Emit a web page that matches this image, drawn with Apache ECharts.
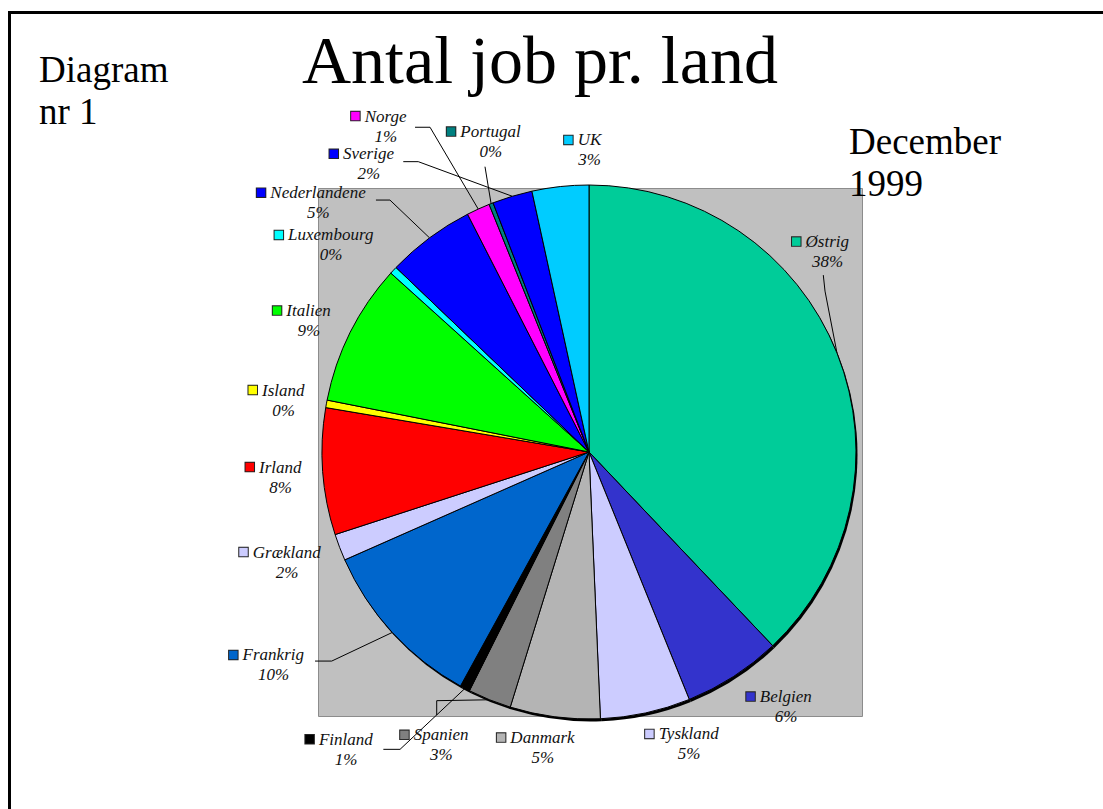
<!DOCTYPE html>
<html>
<head>
<meta charset="utf-8">
<script src="https://cdn.jsdelivr.net/npm/echarts@6/dist/echarts.min.js"></script>
<style>
  html, body { margin: 0; padding: 0; background: #fff; }
  #frame { position: absolute; left: 8px; top: 11px; width: 1200px; height: 900px;
           border-left: 3px solid #000; border-top: 3px solid #000; box-sizing: border-box; }
  #chart { position: absolute; left: 0; top: 0; width: 1103px; height: 809px; }
</style>
</head>
<body>
<div id="frame"></div>
<div id="chart"></div>
<script>
// ---- data ----
const countries = ['Østrig','Belgien','Tyskland','Danmark','Spanien','Finland','Frankrig','Grækland','Irland','Island','Italien','Luxembourg','Nederlandene','Norge','Portugal','Sverige','UK'];
const jobShare  = [37.6, 5.9, 5.4, 5.4, 2.6, 0.6, 10.3, 1.6, 7.6, 0.45, 8.5, 0.45, 5.3, 1.4, 0.25, 2.4, 3.4];
const sliceColors = ['#00CC99','#3333CC','#CCCCFF','#B4B4B4','#808080','#000000','#0066CC','#CCCCFF','#FF0000','#FFFF00','#00FF00','#00FFFF','#0000FF','#FF00FF','#008080','#0000FF','#00CCFF'];
const chartTitle = 'Antal job pr. land';
const cornerNote = 'Diagram\nnr 1';
const dateNote = 'December\n1999';

// ---- layout / style (not data) ----
const CX = 589, CY = 452, R = 267;
const SERIF = "'Liberation Serif', 'Times New Roman', serif";
// label offsets relative to the outer mid-point of each slice; optional leader line (relative too)
const labelPlacement = {
  'Østrig':       { dx: -9.5, dy: -101.5, line: [[-12, -62], [-13.7, -78]] },
  'Belgien':      { dx: 52.5, dy: 30.1 },
  'Tyskland':     { dx: 43.3, dy: 31.0 },
  'Danmark':      { dx: -12.1, dy: 30.8 },
  'Spanien':      { dx: -48.2, dy: 45.1, line: [[-52.8, 0.9], [-52.8, 15.2]] },
  'Finland':      { dx: -118.9, dy: 60.8, line: [[-64.9, 60.9], [-81.6, 60.9]] },
  'Frankrig':     { dx: -118.7, dy: 32.5, line: [[-60.5, 28.6], [-77.2, 28.6]] },
  'Grækland':     { dx: -52.6, dy: 14.7 },
  'Irland':       { dx: -42.2, dy: 5.4 },
  'Island':       { dx: -42.9, dy: -3.8 },
  'Italien':      { dx: -41.6, dy: -11.7 },
  'Luxembourg':   { dx: -62.4, dy: -25.3 },
  'Nederlandene': { dx: -111.3, dy: -35.2, line: [[-39.6, -37.8], [-53.6, -37.8]] },
  'Norge':        { dx: -92.4, dy: -83.0, line: [[-48.2, -81.8], [-63.2, -81.8]] },
  'Portugal':     { dx: -0.3, dy: -62.0, line: [[-6.1, -36.9]] },
  'Sverige':      { dx: -143.5, dy: -32.4, line: [[-94, -34.6], [-109, -34.6]] },
  'UK':           { dx: 29.4, dy: -36.6 }
};

const total = jobShare.reduce((a, b) => a + b, 0);
const midAngles = [];
{
  let acc = 0;
  jobShare.forEach(v => { midAngles.push((acc + v / 2) / total * 360); acc += v; });
}

const rich = {
  n: { fontFamily: SERIF, fontStyle: 'italic', fontSize: 17, lineHeight: 20, color: '#111', padding: [0, 0, 0, 5] },
  s: { width: 14, height: 9 },
  p: { fontFamily: SERIF, fontStyle: 'italic', fontSize: 17, lineHeight: 20, color: '#111' }
};
sliceColors.forEach((c, i) => {
  rich['m' + i] = { width: 8.5, height: 8.5, backgroundColor: c, borderColor: '#222', borderWidth: 1, verticalAlign: 'middle' };
});

const mainData = countries.map((name, i) => ({
  name: name,
  value: jobShare[i],
  itemStyle: { color: sliceColors[i] },
  labelLine: { show: !!labelPlacement[name].line }
}));
const shadowData = countries.map((name, i) => ({ name: name, value: jobShare[i] }));

const chart = echarts.init(document.getElementById('chart'), null, { renderer: 'svg' });
chart.setOption({
  animation: false,
  backgroundColor: 'transparent',
  title: [
    { text: chartTitle, left: 302, top: 26, padding: 0,
      textStyle: { fontFamily: SERIF, fontSize: 68, fontWeight: 'normal', color: '#000' } },
    { text: cornerNote, left: 39, top: 48, padding: 0,
      textStyle: { fontFamily: SERIF, fontSize: 37, lineHeight: 42, fontWeight: 'normal', color: '#000' } },
    { text: dateNote, left: 849, top: 120, padding: 0, z: 10,
      textStyle: { fontFamily: SERIF, fontSize: 37, lineHeight: 42, fontWeight: 'normal', color: '#000' } }
  ],
  graphic: [
    { type: 'rect', z: -10, silent: true,
      shape: { x: 318.5, y: 188.5, width: 544, height: 528 },
      style: { fill: '#C0C0C0', stroke: '#8C8C8C', lineWidth: 1 } }
  ],
  series: [
    {
      type: 'pie', name: 'shadow', silent: true, z: 1,
      center: [CX + 1.5, CY + 2.5], radius: R,
      startAngle: 90, clockwise: true, avoidLabelOverlap: false,
      label: { show: false }, labelLine: { show: false },
      itemStyle: { color: '#000', borderWidth: 0 },
      emphasis: { disabled: true },
      data: shadowData
    },
    {
      type: 'pie', name: 'Antal job', z: 2,
      center: [CX, CY], radius: R,
      startAngle: 90, clockwise: true, avoidLabelOverlap: false,
      itemStyle: { borderColor: '#000', borderWidth: 1 },
      emphasis: { disabled: true },
      label: {
        show: true, position: 'outside',
        formatter: p => '{m' + p.dataIndex + '|}{n|' + p.name + '}{s|}\n{p|' + Math.round(p.value / total * 100) + '%}',
        rich: rich
      },
      labelLine: { show: true, smooth: false, length: 10, length2: 10, lineStyle: { color: '#000', width: 1 } },
      labelLayout: function (params) {
        const i = params.dataIndex;
        const name = countries[i];
        const a = midAngles[i] * Math.PI / 180;
        const ax = CX + R * Math.sin(a);
        const ay = CY - R * Math.cos(a);
        const L = labelPlacement[name];
        const out = { x: ax + L.dx, y: ay + L.dy, align: 'center', verticalAlign: 'middle' };
        if (L.line) {
          out.labelLinePoints = [[ax, ay]].concat(L.line.map(q => [ax + q[0], ay + q[1]]));
          if (out.labelLinePoints.length === 2) out.labelLinePoints.push(out.labelLinePoints[1].slice());
        }
        return out;
      },
      data: mainData
    }
  ]
});
</script>
</body>
</html>
